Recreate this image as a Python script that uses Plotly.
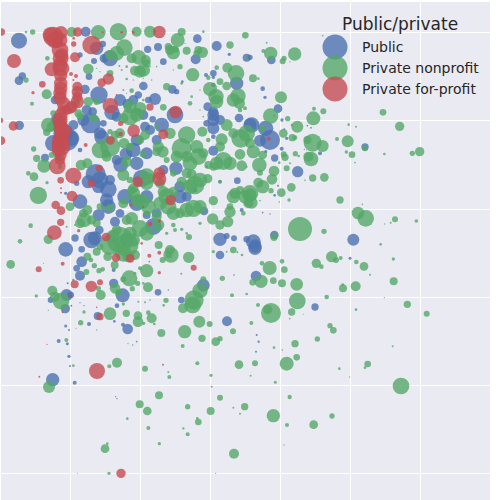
import plotly.graph_objects as go

# Values. Axis units are arbitrary (the reference shows no tick labels).
public_x = [57,67,57,257,308,290,330,282,312,267,240,443,474,490,510,592,650,688,740,618,640,640,587,547,430,517,530,255,297,360,383,415,465,278,336,415,458,525,623,640,640,717,640,750,272,250,165,172,58,305,435,485,410,200,378,362,410,440,640,528,287,230,425,295,325,375,240,197,325,440,540,612,296,345,440,460,298,285,660,680,702,740,225,197,245,712,620,660,585,725,135,380,
 750,814,788,795,834,755,797,810,780,846,853,860,845,824,893,960,1095,1060,823,760,765,824,834,922,788,810,913,920,797,
 660,245,230,240,341,203,341,200,212,196,152,368,351,474,293,267,343,369,383,197,207,176,202,207,210,158,224,544,610,681,702,240,252,214,410,347,351,505,450,
 768,765,1050,945,770,776,768,
 350,450,400,350,470,490,300,320,470,410,540,560,300,430,400,445,310,260,220,240,215,160,190,330,265,360,275,660,640,710,640,620,640]
public_y = [122,228,242,95,132,145,175,183,175,230,165,148,141,185,150,116,138,163,173,225,232,255,178,245,258,268,275,268,285,300,312,285,297,335,337,335,358,345,320,360,335,354,385,375,370,360,300,360,376,412,380,375,420,418,462,495,490,460,452,505,522,550,535,560,568,590,605,580,620,590,590,633,645,665,645,680,690,715,718,708,715,718,714,748,748,542,500,545,570,630,473,720,
 172,180,266,292,326,375,385,420,422,360,388,415,446,474,515,460,441,719,705,725,738,586,557,377,638,642,448,450,455,
 765,785,805,827,810,850,850,885,885,926,900,886,917,877,948,972,964,974,987,978,990,1023,1031,1069,1098,1139,1148,900,856,964,825,908,917,917,1025,1190,1196,870,900,
 828,745,775,921,1005,1025,1055,
 350,390,450,480,420,510,540,600,640,610,560,590,400,345,300,300,370,330,375,450,415,430,400,540,545,640,720,360,410,250,220,370,345]
public_n = [48,22,26,30,20,40,48,18,26,20,16,22,24,20,6,26,30,10,24,12,10,14,30,8,26,26,16,28,52,36,30,22,36,26,46,20,20,50,26,36,30,26,36,40,60,36,26,40,28,44,30,44,36,70,38,44,40,36,30,40,60,16,52,38,50,46,44,10,44,40,40,26,36,30,24,50,26,42,40,18,18,20,22,44,20,20,8,10,14,12,24,40,
 16,26,14,10,26,46,46,60,36,10,6,10,12,22,34,12,22,36,26,44,40,8,6,5,5,4,4,3,10,
 26,32,20,30,12,6,28,36,20,28,18,42,14,20,24,12,8,12,32,9,6,12,9,10,6,40,12,20,38,30,5,4,4,6,5,4,4,4,4,
 32,40,9,22,6,7,6,
 30,30,44,30,30,30,50,40,30,46,34,30,36,30,30,20,20,30,30,14,46,50,60,30,40,26,50,30,14,40,20,20,36]
public_n = [v * v for v in public_n]

nonprofit_x = [78,98,355,295,410,450,215,545,533,736,690,505,373,350,416,437,520,527,560,595,607,265,430,405,540,578,650,682,708,740,625,142,78,140,96,265,290,395,500,570,630,648,714,680,718,735,650,490,420,390,280,240,145,140,101,110,132,155,85,102,141,115,243,262,318,330,372,345,435,510,560,607,680,665,722,750,545,590,488,475,428,595,670,625,720,725,570,370,380,440,450,545,575,585,623,660,705,735,640,690,638,683,660,580,490,505,425,395,370,330,252,275,262,210,540,475,420,360,338,476,520,525,545,567,510,145,92,60,300,700,740,225,610,740,395,400,
 812,790,852,848,884,759,775,843,942,970,940,863,812,892,788,850,877,885,876,938,968,922,1149,1199,1046,1068,1011,1043,1095,1039,1056,1153,1237,1259,1065,760,788,851,855,886,896,933,925,778,780,822,816,838,870,860,938,973,915,775,788,750,755,813,844,874,867,838,780,1020,1074,1097,1185,1172,1154,1249,1087,900,972,822,1142,800,968,870,933,822,
 32,109,157,183,165,242,252,302,330,379,414,414,455,445,431,463,484,554,598,629,606,647,660,699,548,592,351,328,435,717,505,508,633,635,660,477,419,442,563,632,700,734,720,382,445,595,592,550,563,478,315,322,702,327,647,147,220,199,145,290,384,398,667,696,740,610,600,582,578,549,498,491,435,415,370,444,440,388,370,397,413,345,355,259,283,297,308,323,344,566,513,488,507,370,290,262,273,405,420,405,430,544,640,680,712,726,220,295,385,
 846,786,809,853,949,995,1008,964,1022,1069,1092,1110,1180,1181,783,758,820,846,890,1029,1028,1067,980,1153,1222,1280,892,774,813,803,875,1068,869,910,754,990,1000,952,885,822,847,1178,890,860,765,1103,1095,1018,1049,752,826,1203,869,820,996,861,941,852,
 440,500,560,520,600,570,600,560,530,560,610,650,690,640,300,320,360,390,420,470,470,500,390,400,410,445,480,470,440,390,380,300,250,240,290,330,380,400,350,700,720,750,740,700,660,700,720,625,520,430,370,330,380,420,440,395,330,510,590,660,480,520,690,730,745,560,600,500,440,180,170,155,160,200,230,235,290,330,390,410,370,
 555,520,470,450,430,400,380,365,358,300,290,380,455,545,575,600,610,600,650]
nonprofit_y = [96,96,95,97,95,95,96,96,120,106,135,140,143,160,172,180,158,148,152,150,157,207,210,212,200,224,203,203,220,175,233,175,240,283,311,305,305,272,260,310,267,290,288,258,310,325,305,322,325,350,353,348,375,397,447,475,498,465,520,530,548,586,495,490,462,440,430,405,405,400,405,395,375,418,415,430,445,440,455,440,462,470,483,495,463,497,490,525,485,530,535,545,523,555,536,545,580,590,602,635,657,665,675,625,575,620,605,655,610,625,660,660,630,620,640,675,685,720,710,735,675,690,688,711,750,718,677,724,740,750,610,675,95,500,570,565,
 160,153,175,184,162,235,236,292,326,334,355,356,348,380,385,400,413,413,375,428,438,420,337,379,374,380,417,424,445,456,464,462,460,455,488,455,465,463,472,461,468,477,470,495,518,513,538,488,490,505,534,532,541,548,560,585,608,572,578,562,600,606,602,600,639,655,658,668,672,663,613,687,694,712,733,128,107,185,383,347,
 793,888,872,903,890,968,936,885,941,940,947,965,955,938,970,972,999,995,965,972,1015,1025,1016,994,1038,1090,1088,1099,1106,1094,1116,1131,1126,1160,1193,1186,1213,1233,1220,1233,1223,1220,1241,1256,1284,1266,1255,1285,1303,1331,1346,1331,1361,1420,1420,1161,1097,1020,931,990,1031,1035,835,886,882,838,872,900,915,925,901,916,907,905,912,862,812,835,838,866,850,865,878,816,797,812,808,770,795,772,765,780,765,760,755,770,780,765,805,820,850,821,755,755,757,765,840,865,770,
 784,790,804,809,790,770,780,800,774,786,799,824,777,844,844,847,842,850,853,865,854,859,891,893,913,941,903,915,939,928,936,929,956,943,969,977,991,1017,1031,1043,1050,1039,1072,1091,1090,1092,1103,1106,1131,1127,1147,1158,1191,1247,1248,1275,1274,1335,
 550,590,630,640,620,560,540,520,470,470,460,490,490,500,450,470,400,440,420,380,455,480,540,580,600,620,610,650,700,700,660,620,640,670,670,735,735,720,690,590,570,580,400,400,440,300,330,420,520,300,270,220,200,215,190,175,165,150,160,245,550,575,620,640,610,700,670,700,640,500,470,380,340,680,310,340,360,395,320,345,355,
 130,210,200,200,235,240,237,210,198,215,205,280,240,250,290,270,350,330,260]
nonprofit_n = [8,16,52,44,30,36,30,24,42,20,22,22,50,44,44,30,40,20,24,24,34,32,40,30,16,40,14,30,50,10,14,14,16,30,12,28,20,14,22,14,42,46,46,26,34,12,40,20,38,52,22,22,44,22,16,22,40,18,14,26,10,52,32,30,26,60,32,26,30,34,52,30,36,36,56,30,60,40,36,34,20,50,54,24,32,32,44,36,32,50,30,30,30,56,28,12,34,40,28,34,34,34,28,52,34,48,46,38,30,24,44,28,30,26,30,36,50,78,40,24,14,12,10,18,30,28,14,14,20,20,14,6,8,6,26,30,
 40,12,16,18,40,24,8,36,12,18,42,16,46,36,20,26,22,14,8,54,36,24,20,28,8,6,12,36,18,10,20,8,16,28,5,40,26,18,22,16,8,44,30,44,18,32,32,8,6,18,22,26,5,30,40,40,36,16,26,26,10,5,5,22,38,50,18,6,4,11,5,72,16,22,8,6,5,4,6,6,
 26,10,30,50,30,16,10,30,38,22,26,32,30,14,10,8,24,40,36,18,22,26,16,18,12,12,30,12,18,26,6,12,10,6,18,24,24,26,16,24,6,22,6,8,12,20,8,7,12,10,26,8,30,10,4,36,8,12,4,4,4,5,16,12,8,18,46,58,50,30,16,8,6,6,10,30,40,48,18,16,16,32,20,18,16,16,14,26,24,34,46,18,20,50,24,24,14,30,12,8,8,6,10,6,6,8,8,16,34,
 14,14,42,20,28,34,18,14,12,14,26,6,10,24,40,20,20,24,38,24,8,30,14,4,22,18,50,12,60,28,22,8,5,3,12,16,20,16,22,8,5,6,20,42,18,20,8,8,4,6,9,50,13,40,16,12,26,4,
 40,50,44,40,40,44,44,30,36,34,30,40,40,24,50,30,30,24,26,14,26,18,20,40,36,44,40,30,44,40,30,20,26,30,24,60,70,40,30,40,24,50,50,30,30,40,14,14,20,8,6,20,8,36,24,30,30,30,20,20,30,30,20,14,30,8,10,10,16,14,16,30,18,6,20,24,14,16,40,40,30,
 4,4,5,5,4,4,8,6,6,4,4,4,5,8,8,4,5,4,4]
nonprofit_n = [v * v for v in nonprofit_n]

forprofit_x = [4,152,183,160,233,478,275,221,221,42,180,182,225,155,183,213,228,127,99,182,305,325,180,232,232,190,200,215,185,331,450,527,180,183,195,40,2,3,362,401,362,490,331,182,183,182,172,257,220,298,182,274,413,478,478,512,216,183,183,167,183,182,163,236,318,393,430,450,478,425,350,220,365,400,265,308,
 806,
 348,391,448,478,188,116,478,581,224,274,300,210,188,290,300,228,141,291,118,489,363,232,131,448,
 170,180,182,182,180,183,180,183,180,175,180,165,180,185,232,232,210]
forprofit_y = [96,105,98,110,96,96,135,115,132,183,150,175,172,208,205,222,228,253,278,250,248,237,280,275,305,310,330,320,330,317,321,336,360,385,395,378,361,422,370,392,402,403,421,420,440,465,498,435,527,505,541,550,545,520,537,600,588,565,578,615,632,667,698,692,711,615,622,672,663,730,285,240,97,97,97,97,
 416,
 773,775,767,758,791,808,818,803,853,859,847,890,937,922,950,985,1033,1113,1130,1094,1420,1420,790,785,
 130,195,225,265,295,345,370,405,430,450,480,120,120,165,260,290,325]
forprofit_n = [22,48,40,60,28,38,56,8,16,42,50,48,30,42,50,12,12,20,10,40,26,34,40,34,40,40,30,36,28,46,22,38,46,46,40,28,16,26,16,38,14,30,26,50,56,36,50,12,48,22,20,22,32,36,42,32,32,6,6,26,26,22,44,10,26,10,6,14,10,8,6,6,8,8,4,6,
 12,
 26,26,12,12,12,18,10,18,24,34,18,8,6,5,22,3,4,48,6,6,28,2,3,5,
 30,44,40,40,40,40,40,40,50,40,30,50,44,40,30,30,34]
forprofit_n = [v * v for v in forprofit_n]

group_names = ["Public", "Private nonprofit", "Private for-profit"]
legend_title = "Public/private"
x_gridlines = [211, 421, 631, 842, 1051, 1261]
y_gridlines = [97, 360, 628, 891, 1156, 1420]

COLORS = ["#4C72B0", "#55A868", "#C44E52"]
INK = "#262626"

fig = go.Figure()
for name, xs, ys, ns, col in zip(
    group_names,
    [public_x, nonprofit_x, forprofit_x],
    [public_y, nonprofit_y, forprofit_y],
    [public_n, nonprofit_n, forprofit_n],
    COLORS,
):
    fig.add_trace(go.Scatter(
        x=xs, y=ys, mode="markers", name=name, showlegend=False, hoverinfo="skip",
        marker=dict(size=ns, sizemode="area", sizeref=18, sizemin=0.5,
                    color=col, opacity=0.8, line=dict(width=0)),
        cliponaxis=True,
    ))

shapes = []
annotations = [dict(xref="paper", yref="paper", xanchor="center", yanchor="middle",
                    x=400 / 500, y=1 - 24 / 500, text=legend_title, showarrow=False,
                    font=dict(family="DejaVu Sans", size=17, color=INK))]
for i, (name, col) in enumerate(zip(group_names, COLORS)):
    cy = 1 - (47 + 21 * i) / 500
    cx = 335 / 500
    r = 12.5 / 500
    shapes.append(dict(type="circle", xref="paper", yref="paper",
                       x0=cx - r, x1=cx + r, y0=cy - r, y1=cy + r,
                       fillcolor=col, opacity=0.8, line=dict(width=0), layer="above"))
    annotations.append(dict(xref="paper", yref="paper", xanchor="left", yanchor="middle",
                            x=360 / 500, y=cy, text=name, showarrow=False,
                            font=dict(family="DejaVu Sans", size=14, color=INK)))

axis_common = dict(showticklabels=False, ticks="", zeroline=False, showline=False,
                   showgrid=True, gridcolor="#FFFFFF", gridwidth=1.3)
fig.update_layout(
    width=500, height=500,
    margin=dict(l=0, r=0, t=0, b=0),
    autosize=False,
    paper_bgcolor="#FFFFFF",
    plot_bgcolor="#EAEAF2",
    xaxis=dict(range=[3, 1470], domain=[1 / 500, 490 / 500], tickvals=x_gridlines, **axis_common),
    yaxis=dict(range=[1500, 6], domain=[0, 498 / 500], tickvals=y_gridlines, **axis_common),
    shapes=shapes,
    annotations=annotations,
    showlegend=False,
)
fig.write_html("out.html", config={"displayModeBar": False},
               post_script="document.body.style.margin='0';document.documentElement.style.overflow='hidden';")
